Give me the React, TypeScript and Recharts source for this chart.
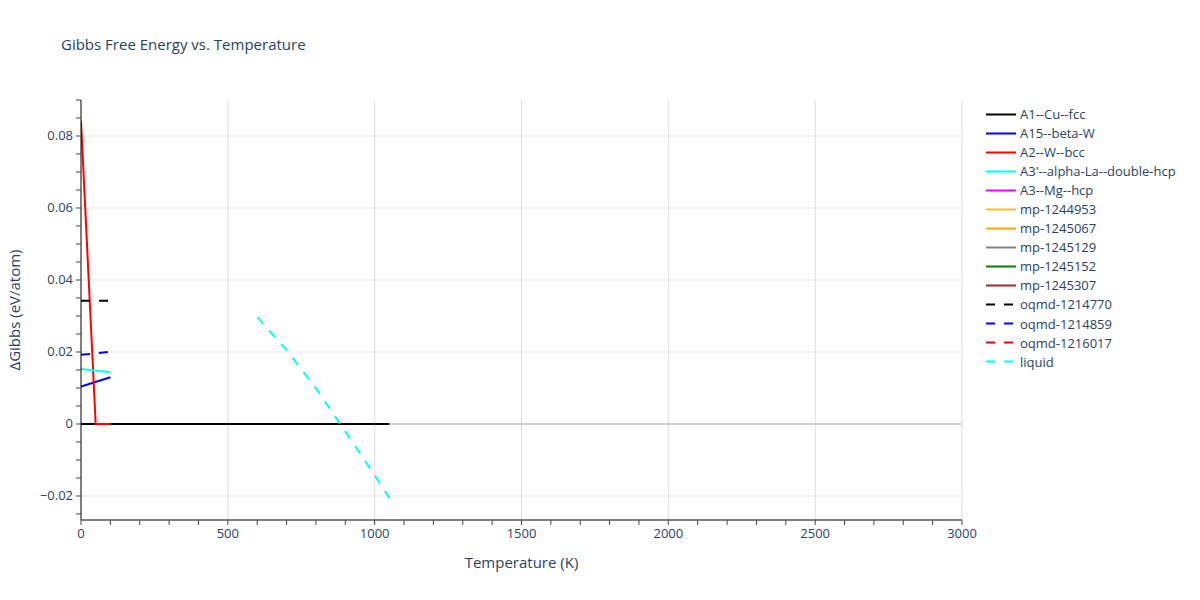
import React from 'react';
import { LineChart, Line, XAxis, YAxis, ReferenceLine, Legend } from 'recharts';

// temperatures (K) and ΔGibbs values (eV/atom)
const a1Temps = [0, 1050];
const a1Values = [0, 0];
const a15Temps = [0, 100];
const a15Values = [0.0104, 0.013];
const a2Temps = [0, 50, 100];
const a2Values = [0.0842, 0, 0];
const a3pTemps = [0, 100];
const a3pValues = [0.0153, 0.0144];
const oqmd770Temps = [0, 100];
const oqmd770Values = [0.0342, 0.0342];
const oqmd859Temps = [0, 100];
const oqmd859Values = [0.0192, 0.0201];
const liquidTemps = [600, 700, 800, 900, 1000, 1050];
const liquidValues = [0.0297, 0.0205, 0.0099, -0.0021, -0.0142, -0.0206];

const xMajor = [0, 500, 1000, 1500, 2000, 2500, 3000];
const yMajor = [-0.02, 0, 0.02, 0.04, 0.06, 0.08];
const xMinor = Array.from({ length: 31 }, (_, i) => i * 100);
const yMinor = Array.from({ length: 24 }, (_, i) => Math.round((-0.025 + i * 0.005) * 1000) / 1000);

const toRows = (temps: number[], values: number[]) => temps.map((t, i) => ({ t, v: values[i] }));

const series = [
  { name: 'A1--Cu--fcc', color: '#000000', dash: undefined, data: toRows(a1Temps, a1Values) },
  { name: 'A15--beta-W', color: '#0000ff', dash: undefined, data: toRows(a15Temps, a15Values) },
  { name: 'A2--W--bcc', color: '#ff0000', dash: undefined, data: toRows(a2Temps, a2Values) },
  { name: "A3'--alpha-La--double-hcp", color: '#00ffff', dash: undefined, data: toRows(a3pTemps, a3pValues) },
  { name: 'A3--Mg--hcp', color: '#ff00ff', dash: undefined, data: [] },
  { name: 'mp-1244953', color: '#f0c030', dash: undefined, data: [] },
  { name: 'mp-1245067', color: '#ffa500', dash: undefined, data: [] },
  { name: 'mp-1245129', color: '#808080', dash: undefined, data: [] },
  { name: 'mp-1245152', color: '#008000', dash: undefined, data: [] },
  { name: 'mp-1245307', color: '#a52a2a', dash: undefined, data: [] },
  { name: 'oqmd-1214770', color: '#000000', dash: '9 9', data: toRows(oqmd770Temps, oqmd770Values) },
  { name: 'oqmd-1214859', color: '#0000ff', dash: '9 9', data: toRows(oqmd859Temps, oqmd859Values) },
  { name: 'oqmd-1216017', color: '#ff0000', dash: '9 9', data: [] },
  { name: 'liquid', color: '#00ffff', dash: '9 9', data: toRows(liquidTemps, liquidValues) },
];

const FONT = '"Open Sans", verdana, arial, sans-serif';
const TEXT = '#2a3f5f';

const XTick = (props: any) => {
  const { x, y, payload } = props;
  if (!xMajor.includes(payload.value)) return null;
  return (
    <text x={x} y={y + 11} textAnchor="middle" fontFamily={FONT} fontSize={13} fill={TEXT}>
      {payload.value}
    </text>
  );
};

const YTick = (props: any) => {
  const { x, y, payload } = props;
  const v = payload.value;
  if (!yMajor.some((m) => Math.abs(m - v) < 1e-9)) return null;
  const label = v === 0 ? '0' : v < 0 ? '\u2212' + Math.abs(v) : String(v);
  return (
    <text x={x - 1} y={y} dy={4.5} textAnchor="end" fontFamily={FONT} fontSize={13} fill={TEXT}>
      {label}
    </text>
  );
};

const renderLegend = () => (
  <div style={{ fontFamily: FONT, fontSize: 13, color: TEXT }}>
    {series.map((s) => (
      <div key={s.name} style={{ display: 'flex', alignItems: 'center', height: 19.05 }}>
        <svg width={35} height={19}>
          <line x1={1} x2={31} y1={9.5} y2={9.5} stroke={s.color} strokeWidth={2} strokeDasharray={s.dash} />
        </svg>
        <span>{s.name}</span>
      </div>
    ))}
  </div>
);

export default function App() {
  return (
    <div style={{ position: 'absolute', left: 0, top: 0, width: 1200, height: 600, background: '#fff' }}>
      <div style={{ position: 'absolute', left: 61, top: 34, fontFamily: FONT, fontSize: 15, color: TEXT }}>
        Gibbs Free Energy vs. Temperature
      </div>
      <LineChart width={1200} height={600} margin={{ top: 100, right: 28, bottom: 0, left: 0 }}>
        {xMajor.slice(1).map((v) => (
          <ReferenceLine key={'gx' + v} x={v} stroke="#dcdcdc" strokeWidth={1} />
        ))}
        {yMajor.filter((v) => v !== 0).map((v) => (
          <ReferenceLine key={'gy' + v} y={v} stroke="#e3e3e3" strokeWidth={1} />
        ))}
        <ReferenceLine y={0} stroke="#d0d0d0" strokeWidth={2} />
        <XAxis
          type="number"
          dataKey="t"
          domain={[0, 3000]}
          ticks={xMinor}
          interval={0}
          allowDataOverflow
          height={80}
          axisLine={{ stroke: '#000', strokeWidth: 1 }}
          tickLine={{ stroke: '#444' }}
          tickSize={5}
          tick={<XTick />}
          label={{
            content: (p: any) => (
              <text x={p.viewBox.x + p.viewBox.width / 2} y={p.viewBox.y + 48} textAnchor="middle" fontFamily={FONT} fontSize={15} fill={TEXT}>
                Temperature (K)
              </text>
            ),
          }}
        />
        <YAxis
          type="number"
          dataKey="v"
          domain={[-0.02667, 0.09]}
          ticks={yMinor}
          interval={0}
          allowDataOverflow
          width={81}
          axisLine={{ stroke: '#000', strokeWidth: 1 }}
          tickLine={{ stroke: '#444' }}
          tickSize={5}
          tick={<YTick />}
          label={{
            content: (p: any) => {
              const cx = 20;
              const cy = p.viewBox.y + p.viewBox.height / 2;
              return (
                <text x={cx} y={cy} transform={`rotate(-90, ${cx}, ${cy})`} textAnchor="middle" fontFamily={FONT} fontSize={15} fill={TEXT}>
                  ΔGibbs (eV/atom)
                </text>
              );
            },
          }}
        />
        {series.map((s) => (
          <Line
            key={s.name}
            data={s.data}
            dataKey="v"
            name={s.name}
            type="linear"
            stroke={s.color}
            strokeWidth={2}
            strokeDasharray={s.dash}
            dot={false}
            activeDot={false}
            isAnimationActive={false}
          />
        ))}
        <Legend
          layout="vertical"
          verticalAlign="top"
          align="right"
          content={renderLegend}
          wrapperStyle={{ top: 104.5, left: 985, right: 'auto', width: 210 }}
        />
      </LineChart>
    </div>
  );
}
